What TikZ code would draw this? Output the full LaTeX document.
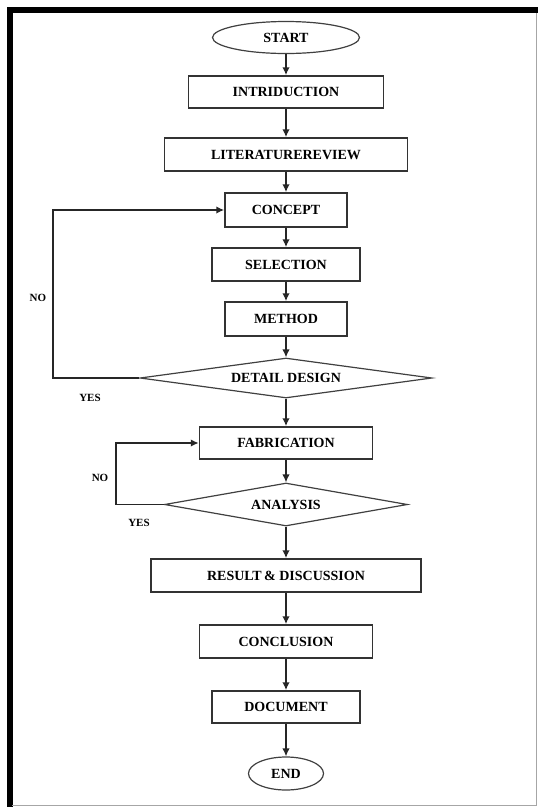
\documentclass[tikz,border=0pt]{standalone}
\usepackage{fontspec}
\setmainfont{Liberation Serif}
\usepackage{tikz}
\usetikzlibrary{shapes.geometric,arrows.meta}

\begin{document}
\begin{tikzpicture}[x=1pt,y=-1pt,
	every node/.style={font=\bfseries\fontsize{14}{16}\selectfont},
	stepbox/.style={draw=black!80,line width=1.5pt,inner sep=0pt,minimum height=33pt},
	terminal/.style={ellipse,draw=black!75,line width=1.2pt,inner sep=0pt,minimum height=32pt},
	decision/.style={diamond,draw=black!75,line width=1.2pt,inner sep=0pt,shape aspect=7},
	arr/.style={draw=black!85,line width=1.6pt,-{Latex[length=8pt,width=7.5pt]}},
	answer/.style={font=\bfseries\fontsize{11}{13}\selectfont}]

	\useasboundingbox (0,0) rectangle (538,807);
	\fill[white] (0,0) rectangle (538,807);

	% frame
	\draw[line width=6pt] (9.5,807) -- (9.5,10) -- (538,10);
	\draw[black!35,line width=1pt] (536.5,13) -- (536.5,805) -- (12,805);

	% main column
	\node[terminal,minimum width=147pt] (start) at (286,37.5) {START};
	\node[stepbox,minimum width=195pt,minimum height=32pt] (intro) at (286,92) {INTRIDUCTION};
	\node[stepbox,minimum width=243pt] (lit) at (286,154.5) {LITERATUREREVIEW};
	\node[stepbox,minimum width=122pt,minimum height=34pt] (concept) at (286,210) {CONCEPT};
	\node[stepbox,minimum width=148pt] (select) at (286,264.5) {SELECTION};
	\node[stepbox,minimum width=122pt,minimum height=34pt] (method) at (286,319) {METHOD};
	\node[decision,minimum width=292pt,minimum height=40pt] (detail) at (286,378) {DETAIL DESIGN};
	\node[stepbox,minimum width=173pt,minimum height=32pt] (fab) at (286,443) {FABRICATION};
	\node[decision,minimum width=243pt,minimum height=43pt] (analysis) at (286,504.5) {ANALYSIS};
	\node[stepbox,minimum width=270pt] (result) at (286,575.5) {RESULT\,\& DISCUSSION};
	\node[stepbox,minimum width=173pt] (concl) at (286,641.5) {CONCLUSION};
	\node[stepbox,minimum width=148pt,minimum height=32pt] (doc) at (286,707) {DOCUMENT};
	\node[terminal,minimum width=75pt,minimum height=33pt] (end) at (286,773.5) {END};

	\draw[arr] (start) -- (intro);
	\draw[arr] (intro) -- (lit);
	\draw[arr] (lit) -- (concept);
	\draw[arr] (concept) -- (select);
	\draw[arr] (select) -- (method);
	\draw[arr] (method) -- (detail);
	\draw[arr] (detail) -- (fab);
	\draw[arr] (fab) -- (analysis);
	\draw[arr] (analysis) -- (result);
	\draw[arr] (result) -- (concl);
	\draw[arr] (concl) -- (doc);
	\draw[arr] (doc) -- (end);

	% loops back
	\coordinate (backA) at (53,378);
	\coordinate (backB) at (116,504.5);
	\draw[arr] (detail.west) -- (backA) |- (concept.west);
	\draw[arr] (analysis.west) -- (backB) |- (fab.west);

	\node[answer] (noA) at (38,298) {NO};
	\node[answer] (yesA) at (90,398) {YES};
	\node[answer] (noB) at (100,478) {NO};
	\node[answer] (yesB) at (139,523) {YES};

\end{tikzpicture}
\end{document}
